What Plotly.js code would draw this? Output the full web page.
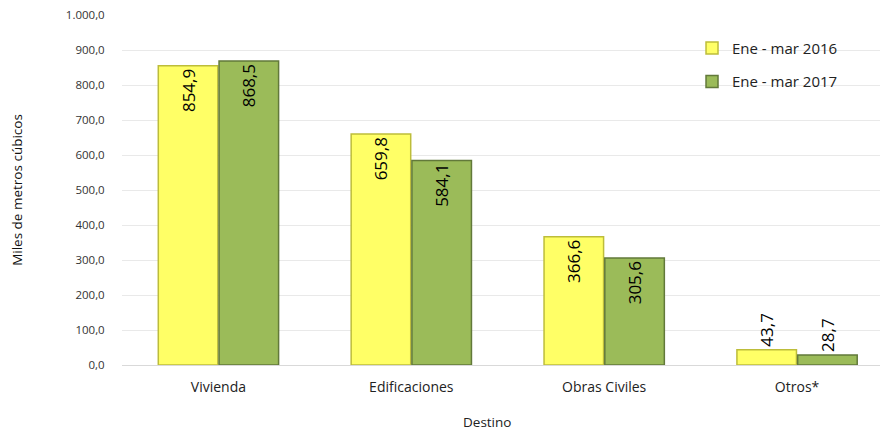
<!DOCTYPE html>
<html>
<head>
<meta charset="utf-8">
<script src="https://cdn.plot.ly/plotly-3.0.1.min.js"></script>
<style>html,body{margin:0;padding:0;background:#fff;}#chart{width:882px;height:432px;}</style>
</head>
<body>
<div id="chart"></div>
<script>
const categories = ["Vivienda", "Edificaciones", "Obras Civiles", "Otros*"];
const series2016 = [854.9, 659.8, 366.6, 43.7];
const series2017 = [868.5, 584.1, 305.6, 28.7];
const seriesNames = ["Ene - mar 2016", "Ene - mar 2017"];
const yTicks = [0, 100, 200, 300, 400, 500, 600, 700, 800, 900, 1000];
const xTitle = "Destino";
const yTitle = "Miles de metros cúbicos";

const FONT = "Open Sans, Noto Sans, sans-serif";
const textPos = ["inside", "inside", "inside", "outside"];

function barTrace(name, vals, fill, edge, grp) {
  return {
    type: "bar",
    name: name,
    legendgroup: grp,
    x: categories,
    y: vals,
    marker: {color: fill, line: {color: edge, width: 1.5}},
    texttemplate: "%{y:.1f}",
    textposition: textPos,
    insidetextanchor: "end",
    textangle: -90,
    textfont: {family: FONT, size: 17, color: "#000"},
    insidetextfont: {family: FONT, size: 17, color: "#000"},
    outsidetextfont: {family: FONT, size: 17, color: "#000"},
    cliponaxis: false,
    hoverinfo: "none"
  };
}

const data = [
  barTrace(seriesNames[0], series2016, "#FFFF66", "#BDBD3A", "a"),
  barTrace(seriesNames[1], series2017, "#9BBB59", "#62793A", "b")
];

const layout = {
  width: 882,
  height: 432,
  margin: {l: 122, r: 2, t: 15, b: 67},
  paper_bgcolor: "#fff",
  plot_bgcolor: "#fff",
  separators: ",.",
  barmode: "group",
  bargap: 0.37,
  bargroupgap: 0.02,
  showlegend: true,
  legend: {
    x: 0.752, y: 0.952, xanchor: "left", yanchor: "top",
    font: {family: FONT, size: 15, color: "#222"},
    tracegroupgap: 11,
    itemwidth: 30,
    bgcolor: "rgba(255,255,255,0)"
  },
  xaxis: {
    type: "category",
    range: [-0.5, 3.43],
    tickfont: {family: FONT, size: 14, color: "#222"},
    ticks: "outside", ticklen: 9, tickcolor: "rgba(0,0,0,0)",
    showline: false,
    showgrid: false,
    zeroline: false,
    automargin: false
  },
  yaxis: {
    range: [0, 1000],
    tickvals: yTicks,
    tickformat: ",.1f",
    tickfont: {family: FONT, size: 11.5, color: "#333"},
    gridcolor: "#E9E9E9",
    gridwidth: 1,
    zeroline: true,
    zerolinecolor: "#D9D9D9",
    showline: false,
    ticks: "outside", ticklen: 14, tickcolor: "rgba(0,0,0,0)",
    title: {text: yTitle, font: {family: FONT, size: 13.5, color: "#111"}, standoff: 40},
    automargin: false
  },
  annotations: [{
    text: xTitle, xref: "paper", yref: "paper",
    x: 0.4815, y: -0.162, xanchor: "center", yanchor: "middle",
    showarrow: false,
    font: {family: FONT, size: 13.5, color: "#222"}
  }]
};

Plotly.newPlot("chart", data, layout, {displayModeBar: false, staticPlot: true});
</script>
</body>
</html>
